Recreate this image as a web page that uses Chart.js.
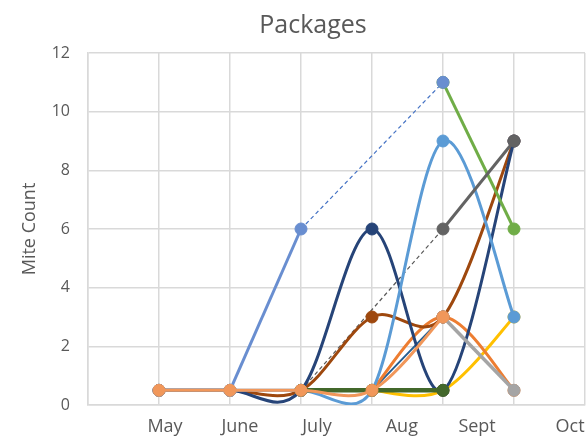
<!DOCTYPE html>
<html>
<head>
<meta charset="utf-8">
<script src="https://cdn.jsdelivr.net/npm/chart.js@4"></script>
<style>
  body { margin: 0; background: #fff; }
  #wrap { width: 586px; height: 440px; }
</style>
</head>
<body>
<div id="wrap"><canvas id="chart"></canvas></div>
<script>
const chartTitle = 'Packages';
const months = ['May', 'June', 'July', 'Aug', 'Sept', 'Oct'];
const monthX = [1, 2, 3, 4, 5, 6];
// where the month names sit on the x scale (they drift right of the gridlines)
const monthLabelX = [1.085, 2.14, 3.225, 4.42, 5.48, 6.79];

// mite counts per package, null = no reading
const pkgPeach     = [0.5, 0.5, 0.5, 0.5, 3, null];
const pkgDarkGreen = [null, null, 0.5, 0.5, 0.5, null];
const pkgGray      = [null, null, null, null, 3, 0.5];
const pkgDarkGray  = [null, null, null, null, 6, 9];
const pkgSkyBlue   = [0.5, 0.5, 0.5, 0.5, 9, 3];
const pkgCornflower= [null, 0.5, 6, null, 11, null];
const pkgGreen     = [null, null, null, null, 11, 6];
const pkgNavy      = [0.5, 0.5, 0.5, 6, 0.5, 9];
const pkgBrown     = [0.5, 0.5, 0.5, 3, 3, 9];
const pkgOrange    = [null, null, null, 0.5, 3, 0.5];
const pkgYellow    = [null, null, null, 0.5, 0.5, 3];
const pkgSteel     = [null, null, null, 0.5, 3, null];
// thin dashed connectors
const linkBlue     = [null, null, 6, null, 11, null];
const linkGray     = [null, null, 0.5, null, 6, null];

const pts = arr => arr.map((v, i) => ({ x: monthX[i], y: v }));

function series(data, color, width, smooth) {
  return {
    data: pts(data),
    borderColor: color,
    backgroundColor: color,
    borderWidth: width || 3,
    tension: smooth === false ? 0 : 0.5,
    pointRadius: 6,
    pointBorderWidth: 1,
    pointBackgroundColor: color,
    pointBorderColor: color,
    spanGaps: false
  };
}

function link(data, color) {
  return {
    data: pts(data),
    borderColor: color,
    borderWidth: 1.2,
    borderDash: [4, 3],
    pointRadius: 0,
    tension: 0,
    spanGaps: true
  };
}

// first dataset is drawn on top
const datasets = [
  series(pkgPeach, '#F1975A'),
  series(pkgDarkGreen, '#43682B', 4.5, false),
  series(pkgGray, '#A5A5A5', 3.5, false),
  series(pkgDarkGray, '#636363', 3, false),
  series(pkgSkyBlue, '#5B9BD5'),
  series(pkgCornflower, '#698ED0', 3, false),
  series(pkgGreen, '#70AD47', 3, false),
  series(pkgNavy, '#264478'),
  series(pkgBrown, '#9E480E'),
  series(pkgOrange, '#ED7D31'),
  series(pkgYellow, '#FFC000'),
  series(pkgSteel, '#255E91', 2),
  link(linkBlue, '#4472C4'),
  link(linkGray, '#595959')
];

// office-style smoothing: catmull-rom tangents (neighbour diff / 6),
// handle length capped at half of the segment it lies on
const officeSmooth = {
  id: 'officeSmooth',
  beforeDatasetsDraw(chart) {
    chart.data.datasets.forEach((ds, i) => {
      if (!ds.tension) return;
      const meta = chart.getDatasetMeta(i);
      const p = meta.data;
      for (let k = 0; k < p.length; k++) {
        const cur = p[k];
        if (cur.skip) continue;
        const prev = k > 0 && !p[k - 1].skip ? p[k - 1] : cur;
        const next = k < p.length - 1 && !p[k + 1].skip ? p[k + 1] : cur;
        const dx = (next.x - prev.x) / 6, dy = (next.y - prev.y) / 6;
        const len = Math.hypot(dx, dy) || 1;
        const s1 = Math.min(1, 0.5 * Math.hypot(cur.x - prev.x, cur.y - prev.y) / len);
        const s2 = Math.min(1, 0.5 * Math.hypot(next.x - cur.x, next.y - cur.y) / len);
        cur.cp1x = cur.x - dx * s1; cur.cp1y = cur.y - dy * s1;
        cur.cp2x = cur.x + dx * s2; cur.cp2y = cur.y + dy * s2;
      }
      meta.dataset._pointsUpdated = true;
    });
  }
};

const titlePlugin = {
  id: 'chartTitle',
  afterDraw(chart) {
    const c = chart.ctx;
    c.save();
    c.font = '25px "Open Sans"';
    c.fillStyle = '#595959';
    c.textAlign = 'center';
    c.fillText(chartTitle, 313, 33);
    c.restore();
  }
};

const textColor = '#595959';
const gridColor = '#D9D9D9';

new Chart(document.getElementById('chart').getContext('2d'), {
  type: 'line',
  data: { datasets },
  plugins: [officeSmooth, titlePlugin],
  options: {
    responsive: true,
    maintainAspectRatio: false,
    animation: false,
    layout: { autoPadding: false, padding: { top: 53, right: 1, left: 0, bottom: 0 } },
    plugins: {
      legend: { display: false },
      title: { display: false },
      tooltip: { enabled: false }
    },
    scales: {
      x: {
        type: 'linear',
        min: 0, max: 7,
        ticks: { display: false, stepSize: 1 },
        grid: { color: gridColor, lineWidth: 1.5, drawTicks: false },
        border: { color: gridColor, width: 1.5 },
        afterFit: s => { s.height = 0; s.paddingLeft = 0; s.paddingRight = 0; }
      },
      x2: {
        type: 'linear',
        position: 'bottom',
        min: 0, max: 7,
        afterBuildTicks: s => { s.ticks = monthLabelX.map(v => ({ value: v })); },
        ticks: {
          autoSkip: false,
          maxRotation: 0,
          padding: 11,
          color: textColor,
          font: { family: 'Open Sans', size: 18 },
          callback: (v, i) => months[i]
        },
        grid: { display: false, drawTicks: false },
        border: { display: false },
        afterFit: s => { s.height = 35; s.paddingLeft = 0; s.paddingRight = 0; }
      },
      y: {
        min: 0, max: 12,
        ticks: { stepSize: 2, padding: 18, color: textColor, font: { family: 'Open Sans', size: 16 } },
        grid: { color: gridColor, lineWidth: 1.5, drawTicks: false },
        border: { color: gridColor, width: 1.5 },
        title: {
          display: true,
          text: 'Mite Count',
          color: textColor,
          font: { family: 'Open Sans', size: 18 },
          padding: { top: 19, bottom: 0 }
        },
        afterFit: s => { s.width = 88; s.paddingTop = 0; s.paddingBottom = 0; }
      }
    }
  }
});
</script>
</body>
</html>
